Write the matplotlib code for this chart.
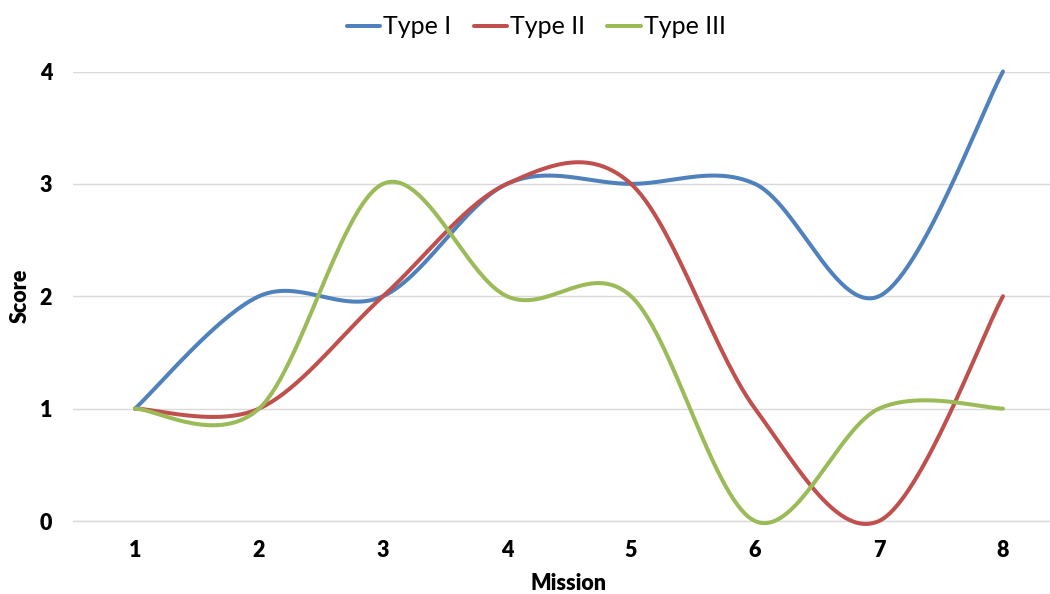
import numpy as np
import matplotlib
matplotlib.use("Agg")
import matplotlib.pyplot as plt

missions = [1, 2, 3, 4, 5, 6, 7, 8]
type_i = [1, 2, 2, 3, 3, 3, 2, 4]
type_ii = [1, 1, 2, 3, 3, 1, 0, 2]
type_iii = [1, 1, 3, 2, 2, 0, 1, 1]
series_names = ["Type I", "Type II", "Type III"]
colors = ["#4F81BD", "#C0504D", "#9BBB59"]
yticks = [0, 1, 2, 3, 4]

plt.rcParams['font.family'] = ['Lato', 'DejaVu Sans']


def smooth(xs, ys, n=60):
    """Excel-style smoothed line: cubic Bezier through data points (Catmull-Rom tangents)."""
    P = np.column_stack([xs, ys]).astype(float)
    m = len(P)
    out = []
    t = np.linspace(0, 1, n)[:, None]
    for i in range(m - 1):
        p0 = P[i]
        p3 = P[i + 1]
        prev = P[i - 1] if i > 0 else P[i]
        nxt = P[i + 2] if i + 2 < m else P[i + 1]
        c1 = p0 + (p3 - prev) / 6.0
        c2 = p3 - (nxt - p0) / 6.0
        seg = ((1 - t) ** 3) * p0 + 3 * ((1 - t) ** 2) * t * c1 + 3 * (1 - t) * t ** 2 * c2 + t ** 3 * p3
        out.append(seg if i == 0 else seg[1:])
    c = np.vstack(out)
    return c[:, 0], c[:, 1]


fig = plt.figure(figsize=(10.5, 5.94), dpi=100)
W, H = 1050, 594
left, right = 73, 1065
top, bottom = 71.5, 521
ax = fig.add_axes([left / W, (H - bottom) / H, (right - left) / W, (bottom - top) / H])

for name, vals, col in zip(series_names, [type_i, type_ii, type_iii], colors):
    sx, sy = smooth(missions, vals)
    ax.plot(sx, sy, color=col, lw=2.9, label=name, solid_capstyle='round', zorder=3, clip_on=False)

ax.set_xlim(0.5, 8.5)
ax.set_ylim(0, 4)
ax.set_xticks(missions)
ax.set_xticklabels([str(m) for m in missions])
ax.set_yticks(yticks)
ax.set_yticklabels([str(v) for v in yticks])
ax.yaxis.grid(True, color="#D9D9D9", lw=1.0)
ax.set_axisbelow(True)
for s in ["left", "right", "top"]:
    ax.spines[s].set_visible(False)
ax.spines["bottom"].set_color("#D9D9D9")
ax.spines["bottom"].set_linewidth(1.0)
ax.tick_params(axis='both', length=0, labelsize=15.5)
ax.tick_params(axis='y', pad=15)
ax.tick_params(axis='x', pad=14)
for lab in ax.get_xticklabels() + ax.get_yticklabels():
    lab.set_fontweight('heavy')

fig.text(20 / W, 1 - 296 / H, "Score", rotation=90, ha='center', va='center', fontsize=15.5, fontweight='heavy')
fig.text(568 / W, 1 - 583 / H, "Mission", ha='center', va='center', fontsize=15.5, fontweight='heavy')

fig.legend(loc='center', bbox_to_anchor=(536 / W, 1 - 27 / H), ncol=3, frameon=False,
           fontsize=18, handlelength=1.35, handletextpad=0.1, columnspacing=0.9)

fig.savefig("out.png", dpi=100, facecolor='white')
